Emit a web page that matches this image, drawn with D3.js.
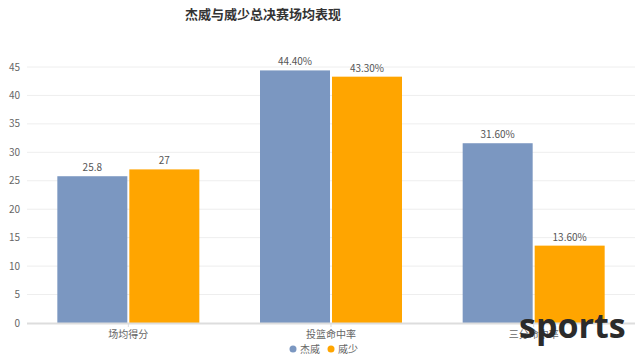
<!DOCTYPE html>
<html>
<head>
<meta charset="utf-8">
<script src="https://cdn.jsdelivr.net/npm/d3@7/dist/d3.min.js"></script>
<style>
    body { margin: 0; background: #fff; }
    svg { display: block; font-family: "Noto Sans CJK SC", "Noto Sans", sans-serif; }
</style>
</head>
<body>
<div id="chart"></div>
<script>
    'use strict';

    const categories = ['场均得分', '投篮命中率', '三分命中率'];
    const seriesNames = ['杰威', '威少'];
    const jwValues = [25.8, 44.4, 31.6];
    const wsValues = [27, 43.3, 13.6];
    const jwLabels = ['25.8', '44.40%', '31.60%'];
    const wsLabels = ['27', '43.30%', '13.60%'];
    const yTicks = [0, 5, 10, 15, 20, 25, 30, 35, 40, 45];

    const width = 640,
        height = 359,
        margin = { top: 67, right: 5, bottom: 36, left: 27 },
        colors = ['#7b97c1', '#ffa500'];

    const svg = d3.select('#chart').append('svg')
        .attr('width', width)
        .attr('height', height);

    const x = d3.scaleBand()
        .domain(categories)
        .range([margin.left, width - margin.right])
        .paddingInner(0)
        .paddingOuter(0);

    const y = d3.scaleLinear()
        .domain([0, 45])
        .range([height - margin.bottom, margin.top]);

    // title
    svg.append('text')
        .attr('x', 263)
        .attr('y', 19)
        .attr('text-anchor', 'middle')
        .style('font-size', '13px')
        .style('font-weight', 'bold')
        .style('fill', '#333')
        .text('杰威与威少总决赛场均表现');

    // grid
    svg.append('g')
        .selectAll('line')
        .data(yTicks.filter(d => d > 0))
        .join('line')
        .attr('x1', margin.left)
        .attr('x2', width - margin.right)
        .attr('y1', d => y(d))
        .attr('y2', d => y(d))
        .style('stroke', '#eeeeee')
        .style('stroke-width', 1);

    svg.append('g')
        .selectAll('text')
        .data(yTicks)
        .join('text')
        .attr('x', 20)
        .attr('y', d => y(d))
        .attr('dy', '0.35em')
        .attr('text-anchor', 'end')
        .style('font-size', '10px')
        .style('fill', '#666')
        .text(d => d);

    // bars
    const series = [
        { name: seriesNames[0], values: jwValues, labels: jwLabels, color: colors[0] },
        { name: seriesNames[1], values: wsValues, labels: wsLabels, color: colors[1] }
    ];

    const groups = svg.append('g')
        .selectAll('g')
        .data(series)
        .join('g');

    const bw = 70;
    const barX = (s, i) => x(categories[i]) + x.bandwidth() / 2 + (s.name === seriesNames[0] ? -bw - 1 : 1);

    groups.selectAll('rect')
        .data(s => s.values.map((v, i) => ({ s, v, i })))
        .join('rect')
        .attr('x', d => barX(d.s, d.i))
        .attr('y', d => y(d.v))
        .attr('width', bw)
        .attr('height', d => y(0) - y(d.v))
        .style('fill', d => d.s.color);

    groups.selectAll('text')
        .data(s => s.values.map((v, i) => ({ s, v, i })))
        .join('text')
        .attr('x', d => barX(d.s, d.i) + bw / 2)
        .attr('y', d => y(d.v) - 5)
        .attr('text-anchor', 'middle')
        .style('font-size', '10px')
        .style('fill', '#555')
        .text(d => d.s.labels[d.i]);

    // x axis
    svg.append('line')
        .attr('x1', margin.left)
        .attr('x2', width - margin.right)
        .attr('y1', y(0) + 0.5)
        .attr('y2', y(0) + 0.5)
        .style('stroke', '#dddddd')
        .style('stroke-width', 2);

    svg.append('g')
        .selectAll('line')
        .data(categories)
        .join('line')
        .attr('x1', d => x(d) + x.bandwidth() / 2)
        .attr('x2', d => x(d) + x.bandwidth() / 2)
        .attr('y1', y(0) + 1)
        .attr('y2', y(0) + 4)
        .style('stroke', '#dddddd');

    svg.append('g')
        .selectAll('text')
        .data(categories)
        .join('text')
        .attr('x', d => x(d) + x.bandwidth() / 2)
        .attr('y', y(0) + 15)
        .attr('text-anchor', 'middle')
        .style('font-size', '10px')
        .style('fill', '#666')
        .text(d => d);

    // legend
    const legend = svg.append('g')
        .selectAll('g')
        .data(series)
        .join('g')
        .attr('transform', (d, i) => `translate(${293 + i * 38}, 349)`);

    legend.append('circle')
        .attr('r', 3.5)
        .style('fill', d => d.color);

    legend.append('text')
        .attr('x', 7)
        .attr('dy', '0.35em')
        .style('font-size', '10px')
        .style('fill', '#666')
        .text(d => d.name);

    // watermark over the third category label
    svg.append('text')
        .attr('x', 519)
        .attr('y', 338)
        .style('font-family', '"Open Sans", "DejaVu Sans", sans-serif')
        .style('font-size', '34px')
        .style('font-weight', 'bold')
        .style('fill', '#2b2b2b')
        .text('sports');
</script>
</body>
</html>
